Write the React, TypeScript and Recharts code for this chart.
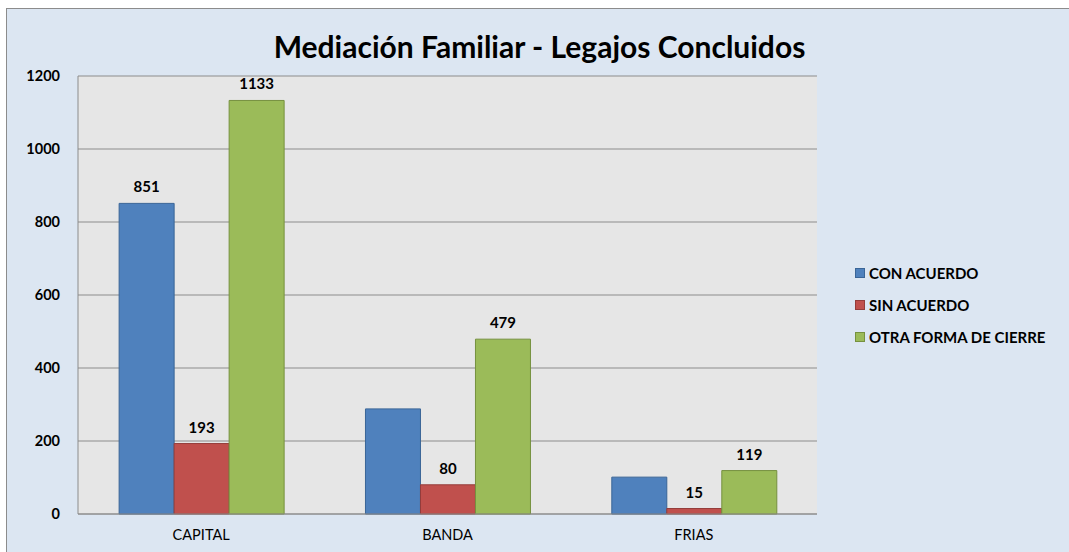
import React from "react";
import { BarChart, Bar, XAxis, YAxis, CartesianGrid, LabelList } from "recharts";

const categories = ["CAPITAL", "BANDA", "FRIAS"];
const conAcuerdo = [851, 288, 101];
const sinAcuerdo = [193, 80, 15];
const otraForma = [1133, 479, 119];
// which values carry a data label in the original
const conAcuerdoLabeled = [true, false, false];
const sinAcuerdoLabeled = [true, true, true];
const otraFormaLabeled = [true, true, true];
const yTicks = [0, 200, 400, 600, 800, 1000, 1200];

const series = [
  { key: "con", name: "CON ACUERDO", fill: "#4f81bd", stroke: "#3a6597", labeled: conAcuerdoLabeled },
  { key: "sin", name: "SIN ACUERDO", fill: "#c0504d", stroke: "#943c3a", labeled: sinAcuerdoLabeled },
  { key: "otra", name: "OTRA FORMA DE CIERRE", fill: "#9bbb59", stroke: "#76913f", labeled: otraFormaLabeled },
];

const data = categories.map((c, i) => ({
  name: c,
  con: conAcuerdo[i],
  sin: sinAcuerdo[i],
  otra: otraForma[i],
}));

const FONT = "Lato, 'Open Sans', sans-serif";

const makeLabel = (labeled: boolean[]) => (props: any) => {
  const { x, y, width, value, index } = props;
  if (!labeled[index]) return null;
  return (
    <text
      x={x + width / 2}
      y={y - 11}
      textAnchor="middle"
      fontFamily={FONT}
      fontWeight={700}
      fontSize={15}
      fill="#000"
    >
      {value}
    </text>
  );
};

export default function App() {
  return (
    <div style={{ position: "absolute", left: 0, top: 0, width: 1069, height: 552, overflow: "hidden", background: "#fff" }}>
      <div
        style={{
          position: "absolute",
          left: 6,
          top: 8,
          width: 1100,
          height: 600,
          background: "#dce6f2",
          border: "1px solid #8c8c8c",
        }}
      />
      <div
        style={{
          position: "absolute",
          left: 0,
          top: 26,
          width: 1079,
          textAlign: "center",
          fontFamily: FONT,
          fontWeight: 700,
          fontSize: 30,
          lineHeight: "40px",
          color: "#000",
        }}
      >
        Mediación Familiar - Legajos Concluidos
      </div>
      <div style={{ position: "absolute", left: 0, top: 0 }}>
        <BarChart
          width={1069}
          height={552}
          data={data}
          margin={{ top: 76, right: 252, bottom: 0, left: 0 }}
          barCategoryGap="16.7%"
          barGap={0}
        >
          <CartesianGrid vertical={false} stroke="#8c8c8c" fill="#e6e6e6" />
          <XAxis
            dataKey="name"
            height={38}
            tickLine={false}
            axisLine={{ stroke: "#8c8c8c" }}
            tickMargin={10}
            tick={{ fontFamily: FONT, fontSize: 14.5, fill: "#000" }}
          />
          <YAxis
            width={78}
            domain={[0, 1200]}
            ticks={yTicks}
            tickLine={false}
            axisLine={{ stroke: "#8c8c8c" }}
            tickMargin={12}
            tick={{ fontFamily: FONT, fontSize: 14.5, fontWeight: 700, fill: "#000" }}
          />
          {series.map((s) => (
            <Bar
              key={s.key}
              dataKey={s.key}
              name={s.name}
              fill={s.fill}
              stroke={s.stroke}
              strokeWidth={1}
              isAnimationActive={false}
            >
              <LabelList dataKey={s.key} content={makeLabel(s.labeled)} />
            </Bar>
          ))}
        </BarChart>
      </div>
      <div
        style={{
          position: "absolute",
          left: 855,
          top: 257,
          fontFamily: FONT,
          fontWeight: 700,
          fontSize: 15,
          color: "#000",
        }}
      >
        {series.map((s) => (
          <div key={s.key} style={{ display: "flex", alignItems: "center", height: 32 }}>
            <span
              style={{
                display: "inline-block",
                width: 8,
                height: 8,
                background: s.fill,
                border: `1px solid ${s.stroke}`,
                marginRight: 4,
              }}
            />
            <span>{s.name}</span>
          </div>
        ))}
      </div>
    </div>
  );
}
